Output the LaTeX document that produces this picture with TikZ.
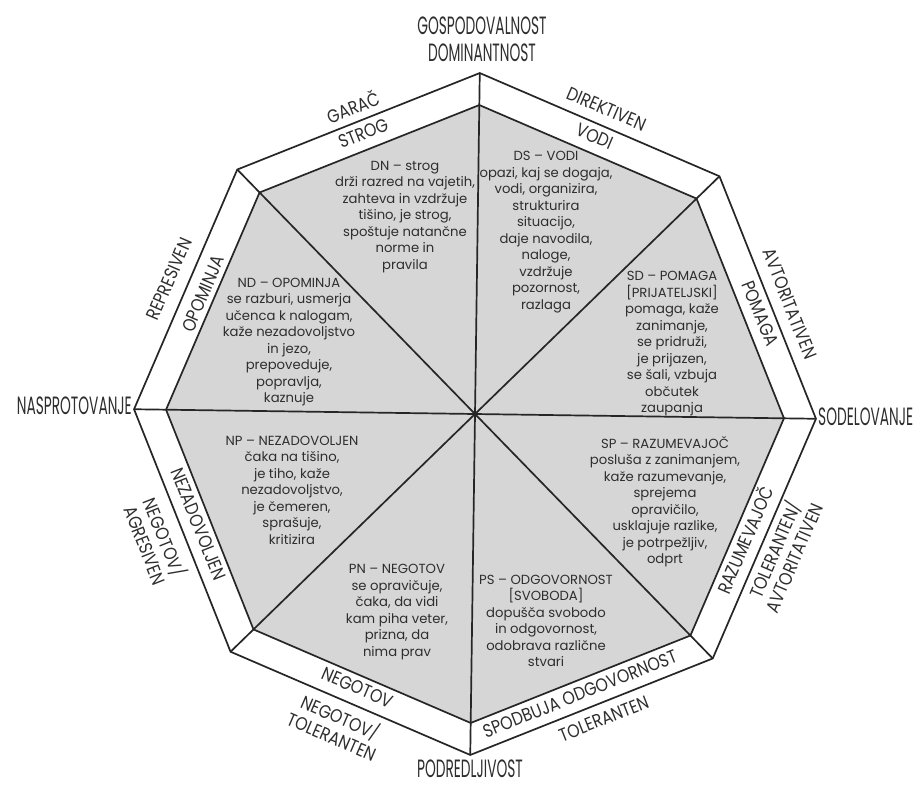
\documentclass[tikz,border=0pt]{standalone}
\usepackage{fontspec}
\usepackage{graphicx}
\setmainfont{Poppins}
\usetikzlibrary{calc}
\definecolor{fillgray}{gray}{0.84}
\definecolor{ink}{gray}{0.18}
\def\rot{-0.8}
\newcommand{\bandtxt}[1]{\scalebox{0.85}[1]{\begin{tabular}{@{}c@{}}#1\end{tabular}}}
\newcommand{\axistxt}[1]{\scalebox{0.55}[1]{\begin{tabular}{@{}c@{}}#1\end{tabular}}}
\begin{document}
\begin{tikzpicture}[x=1pt,y=-1pt,
  edge/.style={line width=1.7pt, draw=black!85, line join=miter},
  sector/.style={font=\fontsize{13.2}{16.5}\selectfont, text=ink, align=center, inner sep=0pt},
  band/.style={font=\fontsize{18.5}{21}\selectfont, text=ink, inner sep=0pt},
  axis/.style={font=\fontsize{25}{27}\selectfont, text=ink, inner sep=0pt}]
\useasboundingbox (0,0) rectangle (917,787);
\fill[white] (0,0) rectangle (917,787);
\coordinate (C) at (475,414);
\foreach \k in {0,...,7} {
  \coordinate (o\k) at ($(C)+(\k*45+\rot:341pt)$);
  \coordinate (i\k) at ($(C)+(\k*45+\rot:309pt)$);
}
% octagons
\fill[fillgray] (i0) -- (i1) -- (i2) -- (i3) -- (i4) -- (i5) -- (i6) -- (i7) -- cycle;
\draw[edge] (o0) -- (o1) -- (o2) -- (o3) -- (o4) -- (o5) -- (o6) -- (o7) -- cycle;
\draw[edge] (i0) -- (i1) -- (i2) -- (i3) -- (i4) -- (i5) -- (i6) -- (i7) -- cycle;
\foreach \k in {0,...,7} { \draw[edge] (C) -- (o\k); }

% axis labels
\node[axis] (top) at (482,43) {\axistxt{GOSPODOVALNOST\\DOMINANTNOST}};
\node[axis, anchor=west] (right) at (818,420) {\axistxt{SODELOVANJE}};
\node[axis, anchor=east] (left) at (132,409) {\axistxt{NASPROTOVANJE}};
\node[axis] (bottom) at (470,772) {\axistxt{PODREDLJIVOST}};

% band labels (upper half)
\node[band, rotate=22.5+\rot] (strog) at ($(C)+(112.5+\rot:300pt)$) {\bandtxt{STROG}};
\node[band, rotate=22.5+\rot] (garac) at ($(C)+(112.5+\rot:328pt)$) {\bandtxt{GARAČ}};
\node[band, rotate=-22.5+\rot] (vodi) at ($(C)+(67.5+\rot:300pt)$) {\bandtxt{VODI}};
\node[band, rotate=-22.5+\rot] (direktiven) at ($(C)+(67.5+\rot:330pt)$) {\bandtxt{DIREKTIVEN}};
\node[band, rotate=-67.5+\rot] (pomaga) at ($(C)+(22.5+\rot:300pt)+(-67.5+\rot:12pt)$) {\bandtxt{POMAGA}};
\node[band, rotate=-67.5+\rot] (avtor) at ($(C)+(22.5+\rot:331pt)+(-67.5+\rot:14pt)$) {\bandtxt{AVTORITATIVEN}};
\node[band, rotate=67.5+\rot] (opominja) at ($(C)+(157.5+\rot:295pt)+(67.5+\rot:3pt)$) {\bandtxt{OPOMINJA}};
\node[band, rotate=67.5+\rot] (represiven) at ($(C)+(157.5+\rot:332pt)+(67.5+\rot:3pt)$) {\bandtxt{REPRESIVEN}};
% band labels (lower half)
\node[band, rotate=67.5+\rot] (razum) at ($(C)+(-22.5+\rot:300pt)+(67.5+\rot:-9pt)$) {\bandtxt{RAZUMEVAJOČ}};
\node[band, rotate=67.5+\rot] (tolavt) at ($(C)+(-22.5+\rot:341pt)+(67.5+\rot:-6pt)$) {\bandtxt{TOLERANTEN/\\AVTORITATIVEN}};
\node[band, rotate=22.5+\rot] (spodbuja) at ($(C)+(-67.5+\rot:301pt)+(22.5+\rot:-6pt)$) {\bandtxt{SPODBUJA ODGOVORNOST}};
\node[band, rotate=22.5+\rot] (toleranten) at ($(C)+(-67.5+\rot:333pt)+(22.5+\rot:7pt)$) {\bandtxt{TOLERANTEN}};
\node[band, rotate=-22.5+\rot] (negotov) at ($(C)+(-112.5+\rot:300pt)$) {\bandtxt{NEGOTOV}};
\node[band, rotate=-22.5+\rot] (negtol) at ($(C)+(-112.5+\rot:344pt)+(-22.5+\rot:-4pt)$) {\bandtxt{NEGOTOV/\\TOLERANTEN}};
\node[band, rotate=-67.5+\rot] (nezad) at ($(C)+(-157.5+\rot:300pt)$) {\bandtxt{NEZADOVOLJEN}};
\node[band, rotate=-67.5+\rot] (negagr) at ($(C)+(-157.5+\rot:346pt)$) {\bandtxt{NEGOTOV/\\AGRESIVEN}};

% sector texts
\node[sector] (dn) at (405,217) {DN – strog\\drži razred na vajetih,\\zahteva in vzdržuje\\tišino, je strog,\\spoštuje natančne\\norme in\\pravila};
\node[sector] (ds) at (546,232) {DS – VODI\\opazi, kaj se dogaja,\\vodi, organizira,\\strukturira\\situacijo,\\daje navodila,\\naloge,\\vzdržuje\\pozornost,\\razlaga};
\node[sector] (sd) at (672,344) {SD – POMAGA\\ {[PRIJATELJSKI]}\\pomaga, kaže\\zanimanje,\\se pridruži,\\je prijazen,\\se šali, vzbuja\\občutek\\zaupanja};
\node[sector] (nd) at (289,342) {ND – OPOMINJA\\se razburi, usmerja\\učenca k nalogam,\\kaže nezadovoljstvo\\in jezo,\\prepoveduje,\\popravlja,\\kaznuje};
\node[sector] (np) at (292,490) {NP – NEZADOVOLJEN\\čaka na tišino,\\je tiho, kaže\\nezadovoljstvo,\\je čemeren,\\sprašuje,\\kritizira};
\node[sector] (sp) at (665,502) {SP – RAZUMEVAJOČ\\posluša z zanimanjem,\\kaže razumevanje,\\sprejema\\opravičilo,\\usklajuje razlike,\\je potrpežljiv,\\odprt};
\node[sector] (pn) at (397,612) {PN – NEGOTOV\\se opravičuje,\\čaka, da vidi\\kam piha veter,\\prizna, da\\nima prav};
\node[sector] (ps) at (546,621) {PS – ODGOVORNOST\\ {[SVOBODA]}\\dopušča svobodo\\in odgovornost,\\odobrava različne\\stvari};
\end{tikzpicture}
\end{document}
